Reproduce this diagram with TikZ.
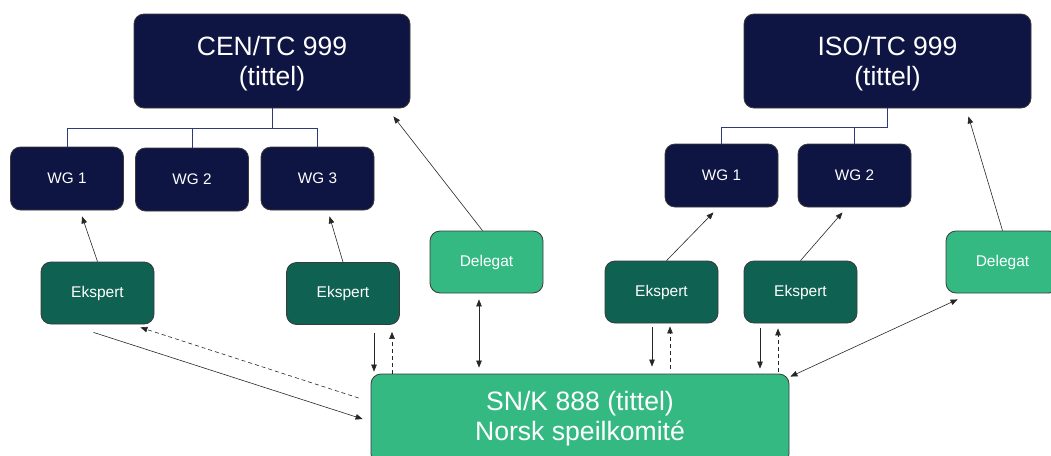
\documentclass[tikz,border=0pt]{standalone}
\usepackage{fontspec}
\setmainfont{Liberation Sans}
\usetikzlibrary{arrows.meta}
\definecolor{navy}{HTML}{0E1542}
\definecolor{dgreen}{HTML}{0F6152}
\definecolor{lgreen}{HTML}{34B982}
\definecolor{edge}{HTML}{3A3A3A}
\definecolor{treeblue}{HTML}{2F3A78}
\newcommand{\twolines}[3]{\raisebox{#3}[\height][\depth]{\begin{tabular}{@{}c@{}}#1\\[1pt]#2\end{tabular}}}
\begin{document}
\begin{tikzpicture}[x=1pt,y=-1pt,
  box/.style={draw=edge,line width=0.8pt,rounded corners=10pt,text=white,align=center,inner sep=0pt},
  tc/.style={box,fill=navy,minimum height=94pt,font=\fontsize{26.5}{29}\selectfont},
  wg/.style={box,fill=navy,minimum width=113pt,minimum height=63pt,font=\fontsize{15.3}{18}\selectfont},
  eks/.style={box,fill=dgreen,minimum width=113pt,minimum height=62pt,font=\fontsize{15.5}{18}\selectfont},
  del/.style={box,fill=lgreen,minimum width=113pt,minimum height=62pt,font=\fontsize{15.5}{18}\selectfont},
  tree/.style={draw=treeblue,line width=1pt},
  arr/.style={draw=black!85,line width=0.6pt,-{Triangle[length=7pt,width=5.5pt]}},
  darr/.style={arr,{Triangle[length=7pt,width=5.5pt]}-{Triangle[length=7pt,width=5.5pt]}},
  dsh/.style={arr,dashed,dash pattern=on 4pt off 3pt}]
\useasboundingbox (0,0) rectangle (1051,455);
% top committees
\node[tc,minimum width=276pt] (cen) at (272,61) {\twolines{CEN/TC 999}{(tittel)}{-4pt}};
\node[tc,minimum width=287pt] (iso) at (887.5,61) {\twolines{ISO/TC 999}{(tittel)}{-4pt}};
% working groups
\node[wg] (cw1) at (67,178.5) {WG 1};
\node[wg] (cw2) at (192,179.5) {WG 2};
\node[wg] (cw3) at (317.5,178.5) {WG 3};
\node[wg] (iw1) at (721.5,175.5) {WG 1};
\node[wg] (iw2) at (854.5,175.5) {WG 2};
% tree lines
\draw[tree] (cen.south) -- ++(0,20) coordinate (cj) -| (cw1.north);
\draw[tree] (cj) -| (cw3.north);
\draw[tree] (cw2.north) -- (cw2.north |- cj);
\draw[tree] (iso.south) -- ++(0,19) coordinate (ij) -| (iw1.north);
\draw[tree] (iw2.north) -- (iw2.north |- ij);
% experts and delegates
\node[eks] (e1) at (97.5,293) {Ekspert};
\node[eks] (e2) at (343,293.5) {Ekspert};
\node[del] (d1) at (486.5,262) {Delegat};
\node[eks] (e3) at (661.5,292) {Ekspert};
\node[eks] (e4) at (800.5,292) {Ekspert};
\node[del] (d2) at (1002.5,262) {Delegat};
% mirror committee
\node[box,fill=lgreen,minimum width=418pt,minimum height=90pt,font=\fontsize{26.6}{30}\selectfont] (sn) at (580,419) {SN/K 888 (tittel)\\Norsk speilkomité};
% upward arrows to WGs / TCs
\draw[arr] (e1.north) -- ([xshift=15pt,yshift=-6pt]cw1.south);
\draw[arr] (e2.north) -- ([xshift=12pt,yshift=-6pt]cw3.south);
\draw[arr] ([xshift=-4pt]d1.north) -- ([xshift=-17pt,yshift=-8pt]cen.south east);
\draw[arr] ([xshift=5pt]e3.north) -- ([xshift=-8pt,yshift=-5pt]iw1.south);
\draw[arr] (e4.north) -- ([xshift=-12pt,yshift=-5pt]iw2.south);
\draw[arr] (d2.north) -- ([xshift=-63pt,yshift=-8pt]iso.south east);
% expert 1 <-> SN
\draw[arr] ([xshift=-4pt,yshift=-8pt]e1.south) -- ([xshift=-8pt]sn.west);
\draw[dsh] ([xshift=-12pt,yshift=21pt]sn.west) -- ([xshift=-14pt,yshift=-3pt]e1.south east);
% expert 2
\coordinate (e2a) at ([xshift=31pt,yshift=-8pt]e2.south);
\coordinate (e2b) at ([xshift=49pt,yshift=-7pt]e2.south);
\draw[arr,shorten >=2pt] (e2a) -- (e2a |- sn.north);
\draw[dsh] (e2b |- sn.north) -- (e2b);
% delegate 1
\coordinate (d1a) at ([xshift=-7.5pt,yshift=-6pt]d1.south);
\draw[darr,shorten >=6pt] (d1a) -- (d1a |- sn.north);
% expert 3
\coordinate (e3a) at ([xshift=-9.5pt,yshift=-4pt]e3.south);
\coordinate (e3b) at ([xshift=8.5pt,yshift=-3pt]e3.south);
\draw[arr,shorten >=7pt] (e3a) -- (e3a |- sn.north);
\draw[dsh,shorten <=5pt] (e3b |- sn.north) -- (e3b);
% expert 4
\coordinate (e4a) at ([xshift=-40.5pt,yshift=-5pt]e4.south);
\coordinate (e4b) at ([xshift=-22.5pt,yshift=-5pt]e4.south);
\draw[arr,shorten >=5pt] (e4a) -- (e4a |- sn.north);
\draw[dsh,shorten <=2pt] (e4b |- sn.north) -- (e4b);
% delegate 2 <-> SN
\draw[darr] ([xshift=12pt,yshift=-6pt]d2.south west) -- ([xshift=1pt,yshift=-3pt]sn.north east);
\end{tikzpicture}
\end{document}
